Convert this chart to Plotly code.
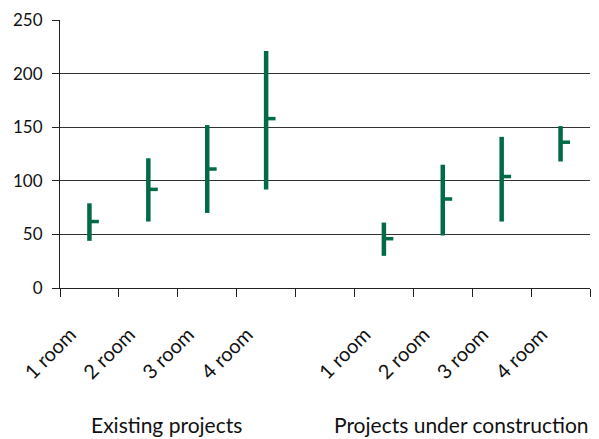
import plotly.graph_objects as go

categories = ["1 room", "2 room", "3 room", "4 room", "", "1 room", "2 room", "3 room", "4 room"]
high = [79, 121, 152, 221, None, 61, 115, 141, 151]
low = [44, 62, 70, 92, None, 30, 49, 62, 118]
close = [62, 92, 111, 158, None, 46, 83, 104, 136]
groups = ["Existing projects", "Projects under construction"]
yticks = [0, 50, 100, 150, 200, 250]

GREEN = "#006B45"
TICK_OFF = 0.16

xs_v, ys_v, xs_c, ys_c = [], [], [], []
for i, (h, l, c) in enumerate(zip(high, low, close)):
    if h is None:
        continue
    xs_v += [i, i, None]
    ys_v += [l, h, None]
    xs_c += [i - 0.02, i + TICK_OFF, None]
    ys_c += [c, c, None]

fig = go.Figure()
fig.add_trace(go.Scatter(x=xs_v, y=ys_v, mode="lines",
                         line=dict(color=GREEN, width=4.5), showlegend=False, hoverinfo="skip"))
fig.add_trace(go.Scatter(x=xs_c, y=ys_c, mode="lines",
                         line=dict(color=GREEN, width=3.5), showlegend=False, hoverinfo="skip"))

tickvals = [i for i, c in enumerate(categories) if c]
ticktext = [c for c in categories if c]

fig.update_layout(
    width=599, height=439,
    margin=dict(l=60, r=9, t=20, b=151),
    plot_bgcolor="white", paper_bgcolor="white",
    font=dict(family="Lato, Noto Sans, sans-serif", size=17, color="#111"),
    xaxis=dict(
        range=[-0.5, len(categories) - 0.5],
        tickvals=tickvals, ticktext=ticktext, ticks="",
        tickangle=-45, tickfont=dict(size=20),
        ticklabelstandoff=26, ticklabelshift=-19,
        showline=True, linecolor="#222", linewidth=1,
        showgrid=False, zeroline=False,
        minor=dict(tick0=-0.5, dtick=1, ticks="outside", ticklen=8, tickcolor="#222", tickwidth=1),
        fixedrange=True,
    ),
    yaxis=dict(
        range=[0, 250], tickvals=yticks,
        ticks="outside", ticklen=7, tickcolor="#222",
        showline=True, linecolor="#222", linewidth=1,
        showgrid=True, gridcolor="#333", gridwidth=1,
        zeroline=False, tickfont=dict(size=17),
        ticklabelstandoff=6,
    ),
)

fig.add_annotation(x=1.3, y=-0.51, xref="x", yref="paper", text=groups[0], showarrow=False,
                   font=dict(size=21), yanchor="middle", xanchor="center")
fig.add_annotation(x=6.32, y=-0.51, xref="x", yref="paper", text=groups[1], showarrow=False,
                   font=dict(size=21), yanchor="middle", xanchor="center")

fig.write_html("out.html")
